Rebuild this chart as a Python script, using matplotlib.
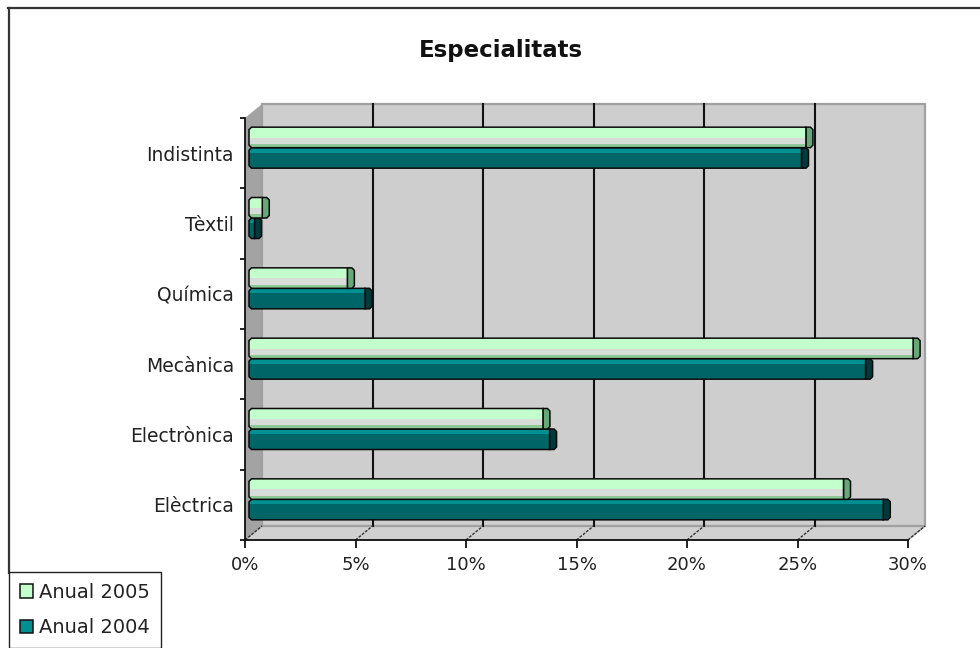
import matplotlib
matplotlib.use("Agg")
import matplotlib.pyplot as plt
from matplotlib.lines import Line2D
from matplotlib.patches import Patch, Polygon
from matplotlib.transforms import Affine2D

categories = ["Elèctrica", "Electrònica", "Mecànica", "Química", "Tèxtil", "Indistinta"]
anual_2005 = [26.9, 13.3, 30.05, 4.45, 0.6, 25.2]
anual_2004 = [28.7, 13.6, 27.9, 5.25, 0.25, 25.0]
x_ticks = [0, 5, 10, 15, 20, 25, 30]
x_labels = ["0%", "5%", "10%", "15%", "20%", "25%", "30%"]

plt.rcParams["font.family"] = ["DejaVu Sans"]

W, H = 980, 648
fig = plt.figure(figsize=(W / 100, H / 100), dpi=100, facecolor="white")
ax = fig.add_axes([245 / W, (H - 540) / H, 663 / W, 422 / H])
ax.set_xlim(0, 30)
ax.set_ylim(0, 6)
ax.patch.set_visible(False)

# data units per pixel
PX = 30 / 663
PY = 6 / 422
DX, DY = 17 * PX, 14 * PY  # depth of the 3d box

# side wall, floor, back wall
ax.add_patch(Polygon([(0, 0), (DX, DY), (DX, 6 + DY), (0, 6)], fc="#a3a3a3", ec="none",
                     clip_on=False, zorder=1))
ax.add_patch(Polygon([(0, 0), (30, 0), (30 + DX, DY), (DX, DY)], fc="#d0d0d0", ec="#a8a8a8",
                     lw=1, clip_on=False, zorder=1))
ax.add_patch(Polygon([(DX, DY), (30 + DX, DY), (30 + DX, 6 + DY), (DX, 6 + DY)], fc="#cecece",
                     ec="#a0a0a0", lw=1.6, clip_on=False, zorder=1))

# gridlines run along the floor and up the back wall
for t in x_ticks[1:-1]:
    ax.plot([t + DX, t + DX], [DY, 6 + DY], color="#111111", lw=1.5, clip_on=False, zorder=2)
for t in x_ticks:
    ax.plot([t, t + DX], [0, DY], color="#333333", lw=1, ls=(0, (2, 1)), clip_on=False, zorder=2)

shifted = ax.transData + Affine2D().translate(4, 5.5)
BAR_H = 20.5 * PY
CAP = 7 * PX


def draw_bar(y0, value, bands, cap_color, z):
    """One cylinder-ish bar, y0 is its lower edge. bands go bottom to top as (share, colour)."""
    y1 = y0 + BAR_H
    cx, cy = 2.5 * PX, 2.5 * PY
    outline = [(cx, y0), (value, y0), (value, y1), (cx, y1), (0, y1 - cy), (0, y0 + cy)]

    # end cap sticks out past the front face
    ax.add_patch(Polygon([(value, y0), (value + CAP - cx, y0), (value + CAP, y0 + cy),
                          (value + CAP, y1 - cy), (value + CAP - cx, y1), (value, y1)],
                         fc=cap_color, ec="#0a0a0a", lw=1.1, transform=shifted,
                         clip_on=False, zorder=z))

    clip = Polygon(outline, fc="none", ec="none", transform=shifted)
    ax.add_patch(clip)
    bottom = y0
    for share, color in bands:
        rects = ax.barh(bottom, value, height=BAR_H * share, align="edge", color=color,
                        lw=0, transform=shifted, zorder=z + 0.1)
        for r in rects:
            r.set_clip_path(clip)
            r.set_clip_box(None)
        bottom += BAR_H * share
    ax.add_patch(Polygon(outline, fc="none", ec="#0a0a0a", lw=1.1, transform=shifted,
                         clip_on=False, zorder=z + 0.2))


bands_2005 = [(0.18, "#8cc896"), (0.30, "#d8dcd8"), (0.52, "#c2ffcc")]
bands_2004 = [(0.76, "#006567"), (0.24, "#009092")]

for i in range(len(categories)):
    mid = i + 0.5
    draw_bar(mid - BAR_H, anual_2004[i], bands_2004, "#003a3c", 4 + i * 0.01)
    draw_bar(mid, anual_2005[i], bands_2005, "#66a878", 5 + i * 0.01)

# axes
for side in ("top", "right"):
    ax.spines[side].set_visible(False)
for side in ("left", "bottom"):
    ax.spines[side].set_linewidth(1.3)
    ax.spines[side].set_color("#111111")
    ax.spines[side].set_zorder(3)
ax.set_xticks(x_ticks)
ax.set_xticklabels(x_labels, fontsize=13, color="#222222")
ax.set_yticks(range(7))
ax.set_yticklabels([])
ax.set_yticks([i + 0.5 for i in range(6)], minor=True)
ax.set_yticklabels(categories, minor=True, fontsize=13.5, color="#222222")
ax.tick_params(axis="x", length=5.8, width=1.3, pad=6, color="#111111")
ax.tick_params(axis="y", which="major", length=3.6, width=1.3, color="#111111")
ax.tick_params(axis="y", which="minor", length=0, pad=8)

fig.text(501 / W, 1 - 50 / H, "Especialitats", fontsize=16.5, fontweight="bold",
         ha="center", va="center", color="#111111")

# chart area border only shows on top and left
fig.add_artist(Line2D([8 / W, 1], [1 - 8 / H, 1 - 8 / H], color="#333333", lw=1.6))
fig.add_artist(Line2D([8.5 / W, 8.5 / W], [1 - 8 / H, 75 / H], color="#333333", lw=1.6))

handles = [Patch(fc="#c2ffcc", ec="#111111", lw=1.1), Patch(fc="#009092", ec="#111111", lw=1.1)]
fig.legend(handles, ["Anual 2005", "Anual 2004"], loc="lower left",
           bbox_to_anchor=(9 / W, 0), bbox_transform=fig.transFigure, borderaxespad=0,
           fontsize=14, frameon=True, fancybox=False, edgecolor="#222222", framealpha=1,
           handlelength=0.7, handleheight=0.7, handletextpad=0.3, labelspacing=0.85,
           borderpad=0.55, labelcolor="#222222")

fig.savefig("out.png", dpi=100)
plt.close(fig)
